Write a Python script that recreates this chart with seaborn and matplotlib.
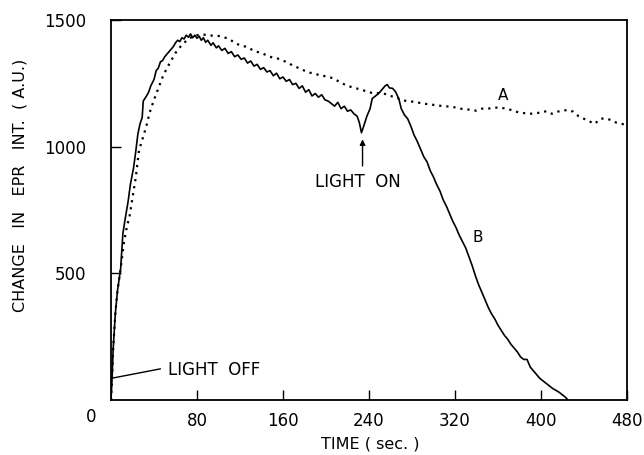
import matplotlib
matplotlib.use("Agg")
import matplotlib.pyplot as plt
import seaborn as sns
import pandas as pd

# Trace A: EPR signal kept in the dark (dotted)
time_a = [0, 1, 2, 4, 6, 9, 12, 15, 17, 21, 23, 26, 30, 33, 36, 40, 44, 48, 52, 56, 60, 64, 68,
          72, 76, 80, 85, 90, 95, 100, 105, 110, 115, 120, 125, 130, 135, 140, 145, 150, 155,
          160, 165, 170, 175, 180, 185, 190, 195, 200, 205, 210, 215, 220, 225, 230, 235, 240,
          245, 250, 255, 260, 265, 270, 275, 280, 285, 290, 295, 300, 305, 310, 315, 320,
          325, 330, 335, 340, 345, 350, 355, 360, 365, 370, 375, 380, 385, 390, 395, 400,
          405, 410, 415, 420, 425, 430, 435, 440, 445, 450, 455, 460, 465, 470, 475, 480]
signal_a = [0, 85, 200, 340, 430, 520, 620, 690, 718, 825, 877, 984, 1040, 1083, 1135, 1185,
            1230, 1275, 1310, 1340, 1370, 1392, 1410, 1425, 1435, 1440, 1443, 1440, 1438, 1437,
            1432, 1425, 1410, 1400, 1395, 1385, 1375, 1370, 1360, 1352, 1348, 1340, 1330, 1318,
            1310, 1300, 1292, 1288, 1280, 1278, 1272, 1262, 1250, 1240, 1234, 1228, 1222, 1215,
            1210, 1212, 1208, 1200, 1195, 1185, 1180, 1178, 1175, 1170, 1168, 1165, 1162, 1160,
            1158, 1155, 1150, 1148, 1145, 1142, 1150, 1150, 1152, 1155, 1152, 1148, 1140, 1135,
            1132, 1130, 1132, 1135, 1140, 1130, 1138, 1142, 1145, 1138, 1120, 1110, 1100, 1090,
            1110, 1112, 1105, 1095, 1090, 1085]

# Trace B: light switched on near 234 s (solid)
time_b = [0, 1, 2, 4, 6, 8, 9, 11, 13, 16, 18, 21, 23, 25, 27, 29, 30, 33, 35, 37, 40, 42, 44,
          46, 48, 50, 53, 56, 58, 60, 62, 64, 66, 68, 70, 72, 74, 76, 78, 80, 82, 84, 86, 88,
          90, 93, 95, 98, 100, 103, 106, 109, 112, 115, 118, 121, 124, 127, 130, 133, 136, 139,
          142, 145, 148, 151, 154, 157, 160, 163, 166, 169, 172, 175, 178, 181, 184, 187, 190,
          193, 196, 199, 202, 205, 208, 211, 214, 217, 220, 223, 226, 229, 231, 233, 235, 238,
          241, 243, 246, 249, 252, 255, 257, 259, 262, 265, 268, 270, 273, 276, 279, 282, 285,
          288, 291, 294, 297, 300, 303, 306, 309, 312, 315, 318, 321, 324, 327, 330, 333, 336,
          339, 342, 345, 348, 351, 354, 357, 360, 363, 366, 369, 372, 375, 378, 381, 384, 387,
          390, 393, 396, 399, 402, 405, 408, 411, 414, 417, 420, 423, 425]
signal_b = [0, 85, 200, 340, 430, 490, 520, 655, 710, 786, 850, 917, 980, 1050, 1090, 1115, 1180,
            1200, 1215, 1240, 1265, 1300, 1310, 1335, 1340, 1355, 1370, 1385, 1395, 1410, 1420,
            1415, 1430, 1425, 1440, 1432, 1445, 1430, 1440, 1428, 1436, 1420, 1430, 1412, 1420,
            1400, 1410, 1390, 1398, 1380, 1388, 1368, 1375, 1355, 1362, 1345, 1350, 1330, 1338,
            1318, 1325, 1305, 1312, 1295, 1300, 1280, 1290, 1268, 1275, 1258, 1265, 1245, 1250,
            1230, 1240, 1215, 1225, 1200, 1210, 1195, 1205, 1185, 1180, 1170, 1160, 1175, 1150,
            1160, 1140, 1145, 1130, 1120, 1095, 1055, 1080, 1120, 1150, 1190, 1200, 1210, 1225,
            1240, 1245, 1232, 1230, 1215, 1185, 1150, 1125, 1110, 1080, 1045, 1020, 990, 960,
            940, 905, 880, 850, 825, 790, 765, 735, 705, 680, 650, 625, 600, 565, 530, 490, 455,
            425, 395, 365, 340, 320, 295, 275, 255, 240, 220, 205, 190, 170, 160, 160, 130, 115,
            100, 85, 75, 65, 55, 45, 38, 30, 20, 10, 0]

x_ticks = [80, 160, 240, 320, 400, 480]
y_ticks = [500, 1000, 1500]

sns.set_style("white")
plt.rcParams["font.family"] = ["DejaVu Sans"]
plt.rcParams["text.color"] = "black"
plt.rcParams["xtick.direction"] = "in"
plt.rcParams["ytick.direction"] = "in"

fig = plt.figure(figsize=(6.44, 4.55), dpi=100)
ax = fig.add_axes([111 / 644, 1 - 400 / 455, (627 - 111) / 644, (400 - 20) / 455])

df_a = pd.DataFrame({"time": time_a, "signal": signal_a})
df_b = pd.DataFrame({"time": time_b, "signal": signal_b})

sns.lineplot(data=df_a, x="time", y="signal", ax=ax, color="black",
             linewidth=1.6, linestyle=(0, (1, 2.2)))
sns.lineplot(data=df_b, x="time", y="signal", ax=ax, color="black", linewidth=1.2)

ax.set_xlim(0, 480)
ax.set_ylim(0, 1500)
ax.set_xticks(x_ticks)
ax.set_yticks(y_ticks)
ax.tick_params(axis="both", bottom=True, left=True, length=7, width=1,
               colors="black", labelcolor="black", labelsize=12)
ax.tick_params(axis="x", pad=9)
ax.tick_params(axis="y", pad=18)
for s in ax.spines.values():
    s.set_color("black")
    s.set_linewidth(1.3)
ax.set_xlabel("")
ax.set_ylabel("")

# shared origin label
ax.annotate("0", xy=(0, 0), xytext=(-20, -17), textcoords="offset pixels",
            ha="center", va="center", fontsize=12, color="black")

fig.text(370 / 644, 1 - 444 / 455, "TIME ( sec. )", ha="center", va="center",
         fontsize=11.5, color="black")
fig.text(20 / 644, 1 - 185 / 455, "CHANGE   IN   EPR   INT.  ( A.U.)", rotation=90,
         ha="center", va="center", fontsize=11.5, color="black")

ax.text(365, 1202, "A", ha="center", va="center", fontsize=11, color="black")
ax.text(341, 643, "B", ha="center", va="center", fontsize=11, color="black")
ax.text(230, 861, "LIGHT  ON", ha="center", va="center", fontsize=12, color="black")
ax.annotate("", xy=(234, 1040), xytext=(234, 913),
            arrowprops=dict(arrowstyle="-|>", color="black", lw=1, mutation_scale=8))
ax.text(53, 119, "LIGHT  OFF", ha="left", va="center", fontsize=12, color="black")
ax.plot([2, 46], [87, 123], color="black", linewidth=1)

fig.savefig("out.png", dpi=100)
